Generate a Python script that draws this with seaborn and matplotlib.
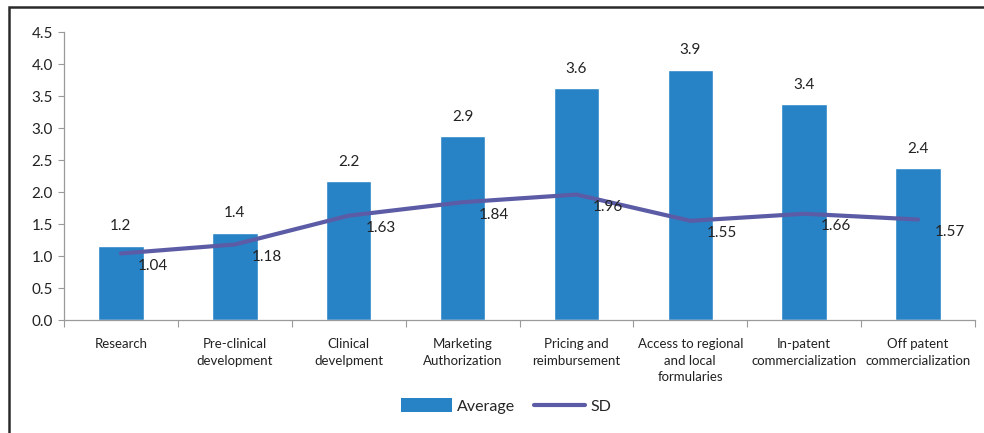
import numpy as np
import pandas as pd
import matplotlib
matplotlib.use("Agg")
import matplotlib.pyplot as plt
from matplotlib.patches import Rectangle, Patch
from matplotlib.lines import Line2D
import seaborn as sns

categories = [
    "Research",
    "Pre-clinical\ndevelopment",
    "Clinical\ndevelpment",
    "Marketing\nAuthorization",
    "Pricing and\nreimbursement",
    "Access to regional\nand local\nformularies",
    "In-patent\ncommercialization",
    "Off patent\ncommercialization",
]
average = [1.16, 1.36, 2.17, 2.87, 3.62, 3.91, 3.37, 2.37]
sd = [1.04, 1.18, 1.63, 1.84, 1.96, 1.55, 1.66, 1.57]
y_ticks = [0.0, 0.5, 1.0, 1.5, 2.0, 2.5, 3.0, 3.5, 4.0, 4.5]

BAR_COLOR = "#2883C6"
LINE_COLOR = "#5C5CA6"
TEXT_COLOR = "#222222"
AXIS_COLOR = "#9A9A9A"

sns.set_theme(style="white")
plt.rcParams["font.family"] = ["Lato", "DejaVu Sans"]

df = pd.DataFrame({"stage": categories, "average": average, "sd": sd})

fig = plt.figure(figsize=(9.84, 4.33), dpi=100)
ax = fig.add_axes([64 / 984, 113 / 433, (975 - 64) / 984, 288 / 433])

sns.barplot(data=df, x="stage", y="average", color=BAR_COLOR, width=0.4,
            saturation=1, ax=ax)
sns.lineplot(x=np.arange(len(sd)), y=sd, color=LINE_COLOR, linewidth=3,
             ax=ax, zorder=3)

# value labels: averages above the bars, SD beside the line
for i, v in enumerate(average):
    ax.annotate(f"{v:.1f}", (i, v), xytext=(0, 9), textcoords="offset points",
                ha="center", va="bottom", fontsize=11, color=TEXT_COLOR)
for i, v in enumerate(sd):
    ax.annotate(f"{v:.2f}", (i, v), xytext=(12, -9), textcoords="offset points",
                ha="left", va="center", fontsize=11, color=TEXT_COLOR, zorder=4)

ax.set_xlim(-0.5, len(categories) - 0.5)
ax.set_ylim(0, 4.5)
ax.set_yticks(y_ticks)
ax.set_yticklabels([f"{t:.1f}" for t in y_ticks], fontsize=11, color=TEXT_COLOR)
ax.set_xticks(np.arange(len(categories)))
ax.set_xticklabels(categories, fontsize=9.5, color=TEXT_COLOR, linespacing=1.45)
ax.tick_params(axis="x", length=0, pad=13)
ax.tick_params(axis="y", length=4, width=0.8, color=AXIS_COLOR, pad=4, left=True)
# category boundary ticks on the x axis
ax.set_xticks(np.arange(len(categories) + 1) - 0.5, minor=True)
ax.tick_params(axis="x", which="minor", length=5, width=0.8, color=AXIS_COLOR,
               bottom=True)
ax.set_xlabel("")
ax.set_ylabel("")
for side in ("top", "right"):
    ax.spines[side].set_visible(False)
for side in ("left", "bottom"):
    ax.spines[side].set_color(AXIS_COLOR)
    ax.spines[side].set_linewidth(0.9)

handles = [Patch(facecolor=BAR_COLOR, edgecolor="none"),
           Line2D([0], [0], color=LINE_COLOR, linewidth=3)]
fig.legend(handles, ["Average", "SD"], loc="center",
           bbox_to_anchor=(506 / 984, 1 - 406 / 433), ncol=2, frameon=False,
           fontsize=11.5, handlelength=3.2, handleheight=0.9, handletextpad=0.3,
           columnspacing=1.2)

# outer frame around the chart
fig.add_artist(Rectangle((9 / 984, -0.05), 1.2, 1 - 7 / 433 + 0.05,
                         transform=fig.transFigure, fill=False,
                         edgecolor="#2A2A2A", linewidth=1.8))

fig.savefig("out.png", dpi=100, facecolor="white")
